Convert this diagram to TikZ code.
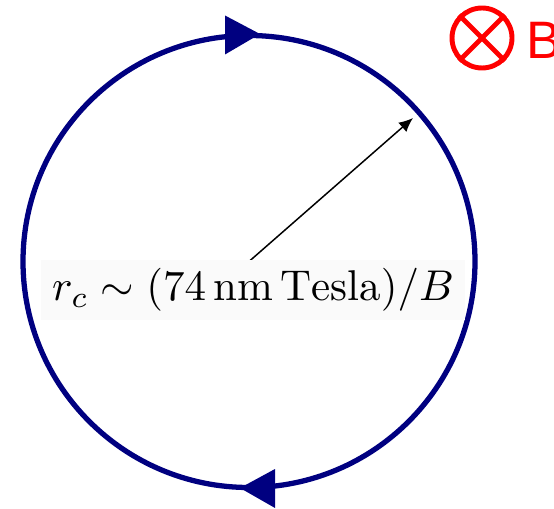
\documentclass[tikz,border=0pt]{standalone}
\usepackage{fontspec}
\usetikzlibrary{arrows.meta, positioning, calc}
\newfontfamily\fieldfont{Liberation Sans}
\definecolor{orbitblue}{RGB}{0, 0, 128}
\definecolor{fieldred}{RGB}{255, 0, 0}
\tikzset{
  orbit/.style={draw=orbitblue, line width=3pt},
  orbitdir/.style={fill=orbitblue, draw=none},
  radiusarrow/.style={draw=black, line width=0.85pt, -{Latex[length=8pt,width=7pt]}},
  formula/.style={fill=black!2, scale=2.45, inner xsep=2.5pt, inner ysep=2pt},
  fieldsym/.style={draw=fieldred, circle, line width=2.8pt, minimum size=1.2cm, inner sep=0pt},
}

\begin{document}
\begin{tikzpicture}[x=0.02cm, y=-0.02cm]
    \useasboundingbox (0,0) rectangle (554,509);
    % cyclotron orbit
    \coordinate (O) at (249,261.5);
    \draw[orbit] (O) circle[radius=226];
    % direction of motion
    \fill[orbitdir] (260,34) -- (225,15.5) -- (225,54.5) -- cycle;
    \fill[orbitdir] (240,488) -- (275,469) -- (275,508) -- cycle;
    % radius
    \coordinate (rim) at ($(O)+(164,-143.5)$);
    \draw[radiusarrow] (O) -- (rim);
    \node[formula] (rc) at (253,290) {$r_c \sim (74\,\mathrm{nm}\,\mathrm{Tesla})/B$};
    % field into the page
    \node[fieldsym] (bfield) at (482,38) {};
    \draw[fieldred, line width=2.8pt] (bfield.north west) -- (bfield.south east);
    \draw[fieldred, line width=2.8pt] (bfield.north east) -- (bfield.south west);
    \node[right=0.23cm of bfield, inner sep=0pt, yshift=-0.05cm, text=fieldred,
      font=\fieldfont\fontsize{30}{36}\selectfont] (blabel) {B};
\end{tikzpicture}
\end{document}
